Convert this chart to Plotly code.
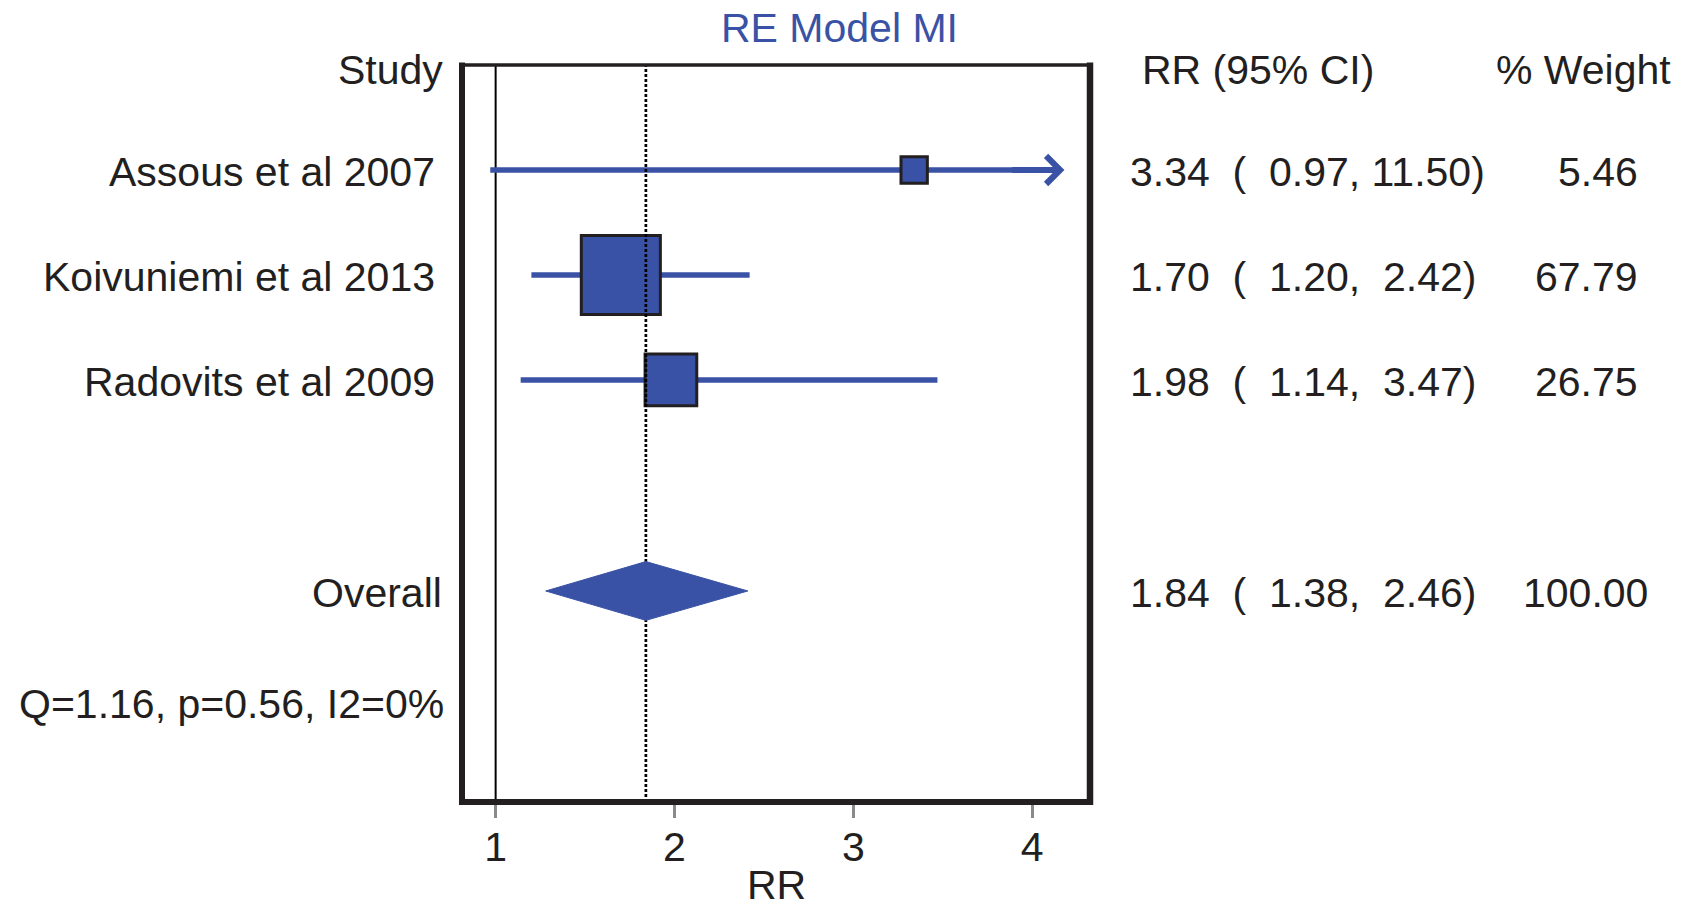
import plotly.graph_objects as go

# ---------------- data ----------------
studies = ["Assous et al 2007", "Koivuniemi et al 2013", "Radovits et al 2009"]
rr = [3.34, 1.70, 1.98]
ci_low = [0.97, 1.20, 1.14]
ci_high = [11.50, 2.42, 3.47]
weights = [5.46, 67.79, 26.75]
overall_label = "Overall"
overall_rr = 1.84
overall_low = 1.38
overall_high = 2.46
overall_weight = 100.00
diamond_extent = [1.28, 2.41]      # diamond tips as drawn in the picture
het_text = "Q=1.16, p=0.56, I2=0%"
x_ticks = [1, 2, 3, 4]
title_text = "RE Model MI"
x_title = "RR"
col_headers = ["Study", "RR (95% CI)", "% Weight"]

# ---------------- styles / layout constants ----------------
BLUE = "#3A52A5"
INK = "#231F20"
FONT = "Liberation Sans, Arial, Helvetica, sans-serif"
FS = 41
FIG_W, FIG_H = 1682, 909
L, R, T, B = 462.0, 1090.5, 64.7, 802.0   # plot area on screen
PW, PH = R - L, B - T
XR = [0.812, 4.323]
X_CLIP = 4.18
YR = [-2.02, 5.0]
BOX_BASE = 52.7
DIAMOND_HALF = 0.28
TEXT_DY = -0.02          # small nudge so glyphs sit on the row centre


def px_x(px):
    return (px - L) / PW


def px_y(py):
    return (B - py) / PH


n = len(studies)
rows = [n + 1 - i for i in range(n)]          # 4, 3, 2
overall_row = rows[-1] - 2.01
het_row = rows[-1] - 3.07
header_row = rows[0] + 0.97

# box sizes from weights (metafor-style scaling)
sq = [w ** 0.5 for w in weights]
mn, mx = min(sq), max(sq)
psize = [((s - mn) / (mx - mn)) + 0.5 for s in sq]
box_px = [p * BOX_BASE for p in psize]

fig = go.Figure()

# reference line at RR = 1
fig.add_trace(go.Scatter(x=[1, 1], y=YR, mode="lines",
                         line=dict(color="black", width=2),
                         hoverinfo="skip", showlegend=False))

# CI lines
lx, ly = [], []
for r_, lo, hi in zip(rows, ci_low, ci_high):
    lx += [lo, min(hi, X_CLIP - 0.06), None]
    ly += [r_, r_, None]
fig.add_trace(go.Scatter(x=lx, y=ly, mode="lines",
                         line=dict(color=BLUE, width=5.5),
                         hoverinfo="skip", showlegend=False))

# boxes
fig.add_trace(go.Scatter(x=rr, y=rows, mode="markers",
                         marker=dict(symbol="square", size=box_px, color=BLUE,
                                     opacity=1,
                                     line=dict(color=INK, width=3)),
                         hoverinfo="skip", showlegend=False))

# dashed line at overall estimate
fig.add_trace(go.Scatter(x=[overall_rr, overall_rr], y=YR, mode="lines",
                         line=dict(color="black", width=2.7, dash="3px,2px"),
                         hoverinfo="skip", showlegend=False))

# diamond
fig.add_trace(go.Scatter(
    x=[diamond_extent[0], overall_rr, diamond_extent[1], overall_rr, diamond_extent[0]],
    y=[overall_row, overall_row + DIAMOND_HALF, overall_row,
       overall_row - DIAMOND_HALF, overall_row],
    mode="lines", fill="toself", fillcolor=BLUE,
    line=dict(color=BLUE, width=1), hoverinfo="skip", showlegend=False))

annotations = []

# arrows for clipped CIs
for r_, hi in zip(rows, ci_high):
    if hi > X_CLIP:
        annotations.append(dict(
            x=X_CLIP, y=r_, ax=X_CLIP - 0.3, ay=r_, xref="x", yref="y",
            axref="x", ayref="y", text="", showarrow=True, arrowhead=4,
            arrowsize=0.9, arrowwidth=6, arrowcolor=BLUE))

txt = dict(family=FONT, size=FS, color=INK)


def fmt(v, w=5):
    s = f"{v:{w}.2f}"
    return s.replace(" ", "\u00a0")


def ci_str(est, lo, hi):
    return f"{est:.2f}\u00a0\u00a0(\u00a0{fmt(lo)},\u00a0{fmt(hi)})"


def label(x, y, text, anchor, yref="y", font=txt, yanchor="middle"):
    annotations.append(dict(x=x, y=y + (TEXT_DY if yref == "y" else 0),
                            xref="paper", yref=yref, text=text,
                            showarrow=False, xanchor=anchor, yanchor=yanchor,
                            borderpad=0, font=font))


# left labels
for r_, s in zip(rows, studies):
    label(px_x(436), r_, s, "right")
label(px_x(444), header_row, col_headers[0], "right")
label(px_x(443), overall_row, overall_label, "right")
label(px_x(445), het_row, het_text, "right")

# right columns
ci_x = px_x(1130)
label(px_x(1142), header_row, col_headers[1], "left")
label(px_x(1673), header_row, col_headers[2], "right")
for r_, e, lo, hi, w in zip(rows, rr, ci_low, ci_high, weights):
    label(ci_x, r_, ci_str(e, lo, hi), "left")
    label(px_x(1640), r_, f"{w:.2f}", "right")
label(ci_x, overall_row, ci_str(overall_rr, overall_low, overall_high), "left")
label(px_x(1650), overall_row, f"{overall_weight:.2f}", "right")

# title
label(px_x(840), px_y(28), title_text, "center", yref="paper",
      font=dict(family=FONT, size=FS, color=BLUE))

# x-axis title, kept inside the page
label(0.5, px_y(FIG_H), x_title, "center", yref="paper", yanchor="bottom")

# frame (sides thicker than top)
shapes = [
    dict(type="line", xref="paper", yref="paper", x0=0, x1=0,
         y0=-3 / PH, y1=1 + 2.5 / PH, line=dict(color=INK, width=6)),
    dict(type="line", xref="paper", yref="paper", x0=1, x1=1,
         y0=-3 / PH, y1=1 + 2.5 / PH, line=dict(color=INK, width=6.5)),
    dict(type="line", xref="paper", yref="paper", x0=0, x1=1,
         y0=0, y1=0, line=dict(color=INK, width=6)),
    dict(type="line", xref="paper", yref="paper", x0=0, x1=1,
         y0=1, y1=1, line=dict(color=INK, width=3.5)),
]

fig.update_layout(
    width=FIG_W, height=FIG_H,
    margin=dict(l=L, r=FIG_W - R, t=T, b=FIG_H - B, pad=0, autoexpand=False),
    plot_bgcolor="white", paper_bgcolor="white",
    showlegend=False,
    annotations=annotations,
    shapes=shapes,
    font=txt,
)
fig.update_xaxes(range=XR, tickvals=x_ticks, ticktext=[str(t) for t in x_ticks],
                 showgrid=False, zeroline=False, showline=False,
                 ticks="outside", ticklen=15, tickwidth=2.5, tickcolor="#8a8a8a",
                 ticklabelstandoff=-6,
                 tickfont=dict(family=FONT, size=FS, color=INK),
                 automargin=False)
fig.update_yaxes(range=YR, showticklabels=False, showgrid=False, zeroline=False,
                 showline=False, ticks="", automargin=False)

fig.write_html("out.html", config={"displayModeBar": False},
               post_script="document.body.style.margin='0px';")
